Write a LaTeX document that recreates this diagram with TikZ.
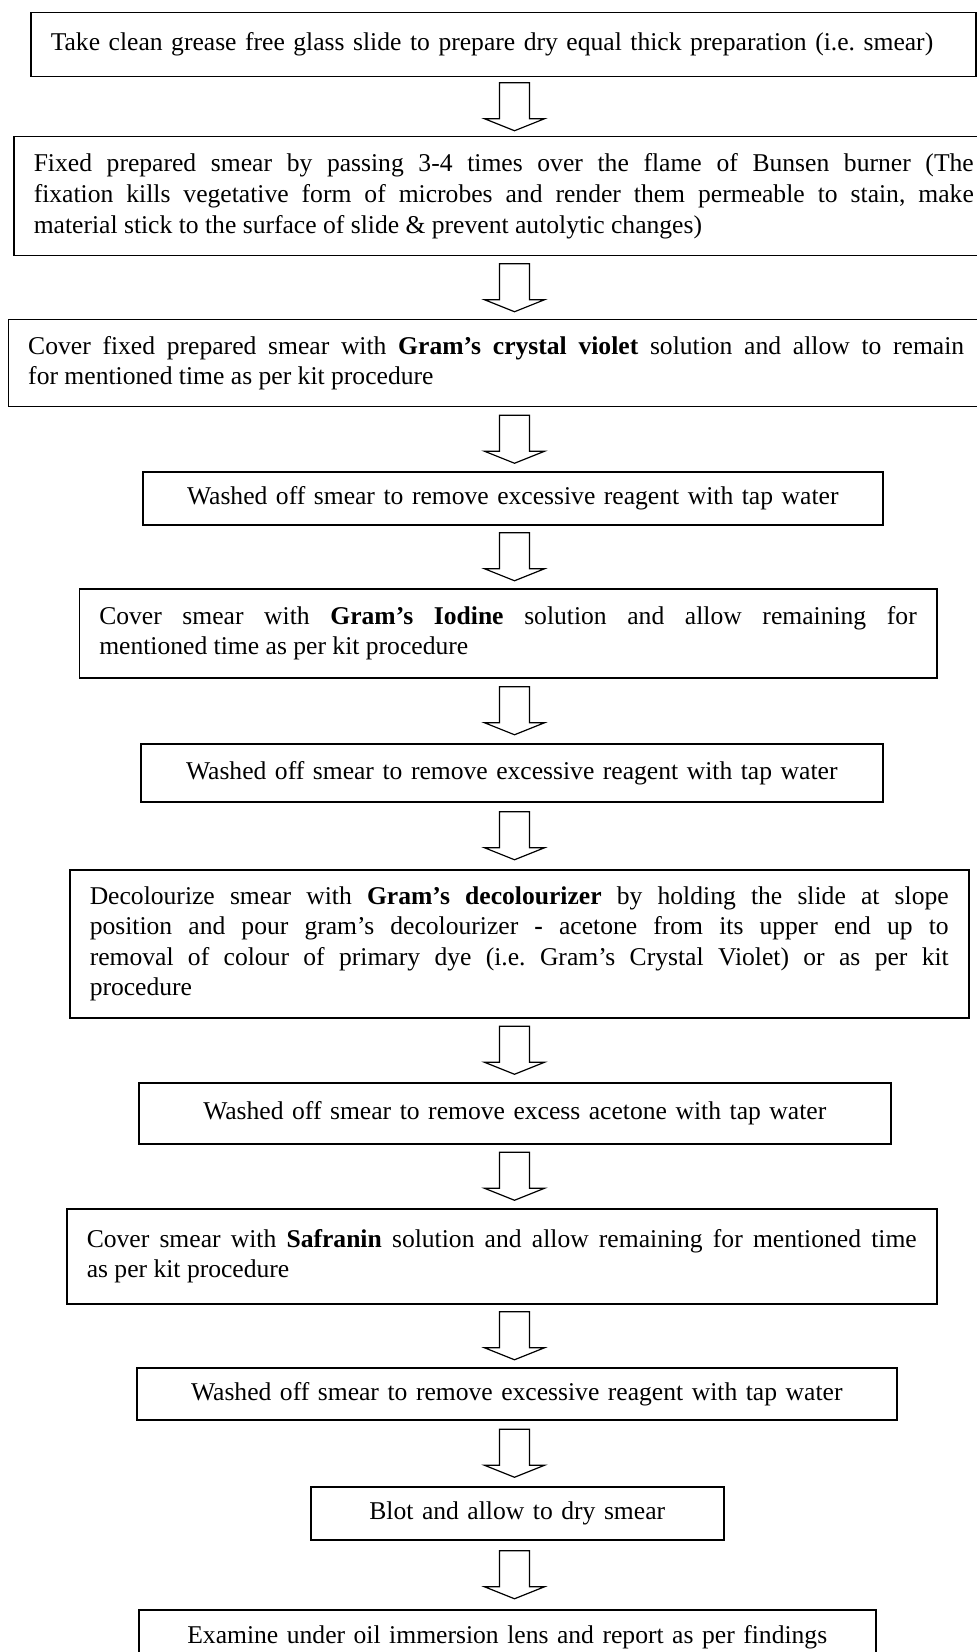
\documentclass[tikz,border=0pt]{standalone}
\usepackage{fontspec}
\setmainfont{Liberation Serif}
\usetikzlibrary{calc}
\hyphenpenalty=10000
\exhyphenpenalty=10000
\frenchspacing

\tikzset{
  stepbox/.style={draw,line width=0.75pt,anchor=north west,inner xsep=10pt,
    inner ysep=0pt,align=justify,font=\fontsize{12.8}{15.3}\selectfont},
  downarrow/.pic={
    \draw[line width=0.6pt,line join=miter] (-15,-24) -- (15,-24) -- (15,12) -- (30,12)
      -- (0,24) -- (-30,12) -- (-15,12) -- cycle;
  }
}

\begin{document}
\begin{tikzpicture}[x=0.5pt,y=-0.5pt]
    \useasboundingbox (0,0) rectangle (977,1652);
    \coordinate (ax) at (514.5,0);

    % steps of the staining
    \node[stepbox,align=left,text width=452.5pt,minimum height=32pt] (b1) at (30,12)
      {Take clean grease free glass slide to prepare dry equal thick preparation (i.e. smear)};
    \node[stepbox,text width=470pt,minimum height=59.5pt] (b2) at (13,136)
      {Fixed prepared smear by passing 3-4 times over the flame of Bunsen burner (The\linebreak
       fixation kills vegetative form of microbes and render them permeable to stain, make\linebreak
       material stick to the surface of slide \& prevent autolytic changes)};
    \node[stepbox,text width=468pt,minimum height=43.5pt] (b3) at (7.5,319)
      {Cover fixed prepared smear with \textbf{Gram's crystal violet} solution and allow to remain\linebreak
       for mentioned time as per kit procedure};
    \node[stepbox,align=center,text width=350pt,minimum height=26.5pt] (b4) at (142,471)
      {Washed off smear to remove excessive reagent with tap water};
    \node[stepbox,text width=408.75pt,minimum height=44.5pt] (b5) at (78.5,588)
      {Cover smear with \textbf{Gram's Iodine} solution and allow remaining for\linebreak
       mentioned time as per kit procedure};
    \node[stepbox,align=center,text width=351pt,minimum height=29pt] (b6) at (140,743)
      {Washed off smear to remove excessive reagent with tap water};
    \node[stepbox,text width=429.5pt,minimum height=74pt] (b7) at (69,869)
      {Decolourize smear with \textbf{Gram's decolourizer} by holding the slide at slope\linebreak
       position and pour gram's decolourizer \textbf{-} acetone from its upper end up to\linebreak
       removal of colour of primary dye (i.e. Gram's Crystal Violet) or as per kit\linebreak
       procedure};
    \node[stepbox,align=center,text width=356pt,minimum height=30.5pt] (b8) at (138,1082)
      {Washed off smear to remove excess acetone with tap water};
    \node[stepbox,text width=415pt,minimum height=47.5pt] (b9) at (66,1208)
      {Cover smear with \textbf{Safranin} solution and allow remaining for mentioned time\linebreak
       as per kit procedure};
    \node[stepbox,align=center,text width=360pt,minimum height=26pt] (b10) at (136,1367)
      {Washed off smear to remove excessive reagent with tap water};
    \node[stepbox,align=center,text width=186.5pt,minimum height=26.5pt] (b11) at (310,1486)
      {Blot and allow to dry smear};
    \node[stepbox,align=center,text width=348.5pt,minimum height=27.5pt] (b12) at (138,1609)
      {Examine under oil immersion lens and report as per findings};

    % hollow arrows between the steps
    \foreach \a/\b in {b1/b2,b2/b3,b3/b4,b4/b5,b5/b6,b6/b7,b7/b8,b8/b9,b9/b10,b10/b11,b11/b12}
      \pic at ($(\a.south -| ax)!0.5!(\b.north -| ax)$) {downarrow};
\end{tikzpicture}
\end{document}
